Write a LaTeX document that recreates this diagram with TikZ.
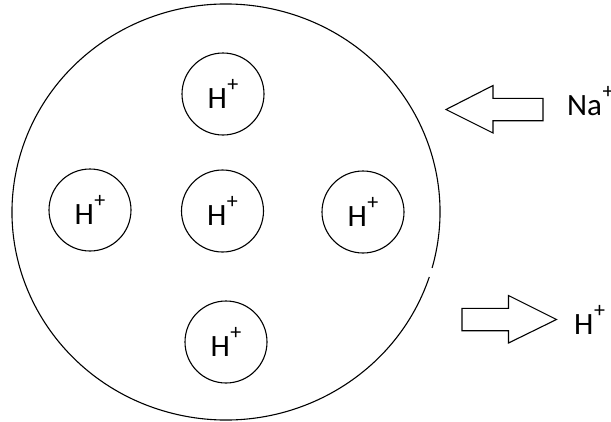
\documentclass[tikz,border=0pt]{standalone}
\usepackage{fontspec}
\setmainfont{Carlito}
\newcommand{\ionplus}{\kern0.5pt\raisebox{0.52em}{\fontsize{22}{22}\selectfont +}}
\newcommand{\Hion}{H\ionplus}
\begin{document}
\begin{tikzpicture}[x=1pt,y=-1pt,
  lbl/.style={font=\fontsize{31}{33}\selectfont, inner sep=0pt},
  ion/.style={draw, line width=1.1pt, circle, minimum size=82pt, inner sep=0pt, lbl},
  fatarrow/.style={draw, line width=1.1pt, line join=miter}]
\useasboundingbox (0,0) rectangle (611,421);
% cell
\draw[line width=1.1pt] (226,212) ++(-15.6:214pt and 208pt)
  arc[start angle=-15.6, end angle=341.8, x radius=214pt, y radius=208pt];
% ions
\node[ion] (top) at (223,94) {\Hion};
\node[ion] (left) at (90,210) {\Hion};
\node[ion] (mid) at (222.5,211) {\Hion};
\node[ion] (right) at (363,212) {\Hion};
\node[ion] (bot) at (226,342) {\Hion};
% Na+ in arrow
\coordinate (natip) at (446,109.5);
\draw[fatarrow] (natip) -- (493,85.5) -- (493,98.3) -- (543,98.3) -- (543,120.7)
  -- (493,120.7) -- (493,133) -- cycle;
\node[lbl, anchor=base west] (na) at (567,115) {Na\ionplus};
% H+ out arrow
\coordinate (htail) at (462,319.5);
\draw[fatarrow] (htail) |- (508.5,308.3) -- (508.5,295.5) -- (556.5,319.5)
  -- (508.5,343) -- (508.5,330.7) -| (htail);
\node[lbl, anchor=base west] (hout) at (574,334) {\Hion};
\end{tikzpicture}
\end{document}
